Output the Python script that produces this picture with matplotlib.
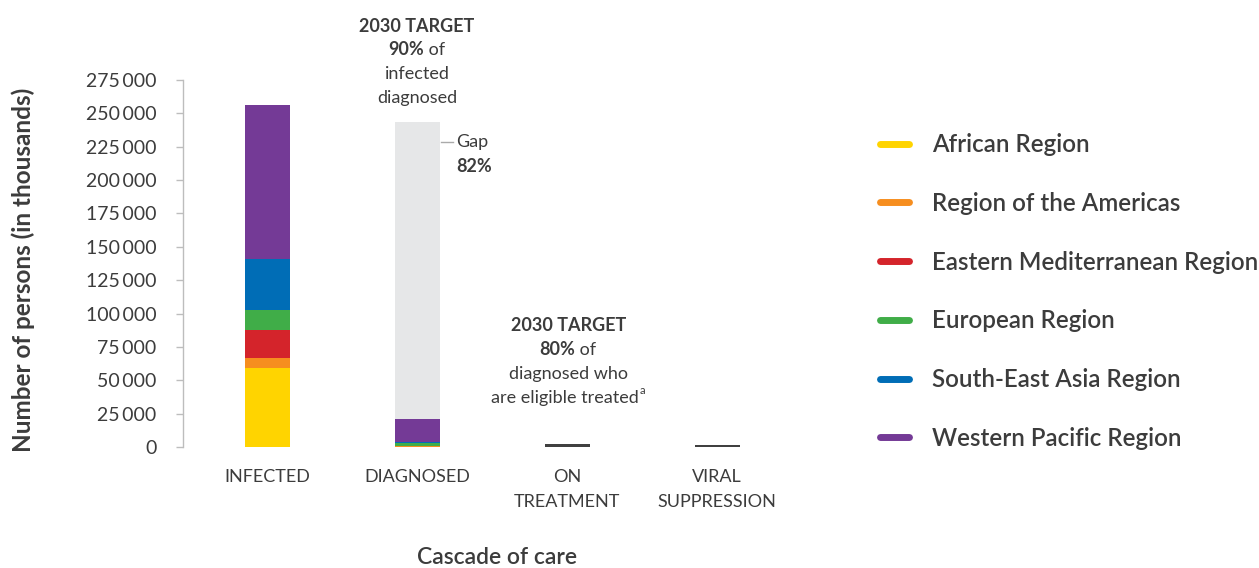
import matplotlib
matplotlib.use("Agg")
import matplotlib.pyplot as plt
from matplotlib.lines import Line2D
import numpy as np

plt.rcParams['font.family'] = ['Lato', 'DejaVu Sans']

# ---------------- data ----------------
stages = ["INFECTED", "DIAGNOSED", "ON\nTREATMENT", "VIRAL\nSUPPRESSION"]
regions = ["African Region", "Region of the Americas", "Eastern Mediterranean Region",
           "European Region", "South-East Asia Region", "Western Pacific Region"]
region_colors = ["#FFD400", "#F68E1F", "#D4242B", "#40AD48", "#006DB6", "#743A96"]

infected = [59500, 7300, 20500, 15200, 38300, 115600]
diagnosed = [0, 750, 0, 2500, 300, 17300]
diagnosed_target_bar = 243400          # grey bar (2030 target level)
on_treatment_total = 2000
viral_suppression_total = 1300

yticks = list(range(0, 275001, 25000))
gap_label = "82%"

TEXT = "#3c3c3c"

fig = plt.figure(figsize=(12.59, 5.68), dpi=100)
W, H = 1259, 568
ax = fig.add_axes([183 / W, (H - 447) / H, (801 - 183) / W, (447 - 80) / H])

x = np.arange(len(stages))
bw = 0.3

# grey target bar behind diagnosed
ax.bar(x[1], diagnosed_target_bar, width=bw, color="#E6E7E8", zorder=1)

bottom_inf = 0
bottom_dia = 0
for i, (name, col) in enumerate(zip(regions, region_colors)):
    ax.bar(x[0], infected[i], bottom=bottom_inf, width=bw, color=col, zorder=2)
    bottom_inf += infected[i]
    if diagnosed[i] > 0:
        ax.bar(x[1], diagnosed[i], bottom=bottom_dia, width=bw, color=col, zorder=2)
    bottom_dia += diagnosed[i]

ax.bar(x[2], on_treatment_total, width=bw, color="#404040", zorder=2)
ax.bar(x[3], viral_suppression_total, width=bw, color="#404040", zorder=2)

ax.set_xlim(-0.56, 3.56)
ax.set_ylim(0, 275000)
ax.set_yticks(yticks)
ax.set_yticklabels([f"{v:,}".replace(",", "\u2009") for v in yticks],
                   fontsize=14, color=TEXT)
ax.set_xticks(x)
ax.set_xticklabels(stages, fontsize=13, color=TEXT, linespacing=1.68, va="top")
ax.tick_params(axis="x", length=0, pad=16)
ax.tick_params(axis="y", length=5, width=1, color="#bdbdbd", pad=14)

for s in ["top", "right", "bottom"]:
    ax.spines[s].set_visible(False)
ax.spines["left"].set_color("#bdbdbd")
ax.spines["left"].set_linewidth(1)

ax.set_ylabel("Number of persons (in thousands)", fontsize=17.5, fontweight="bold",
              color=TEXT)
ax.yaxis.set_label_coords(-0.24, 0.483)
ax.set_xlabel("Cascade of care", fontsize=16.5, fontweight="semibold", color=TEXT)
ax.xaxis.set_label_coords(0.508, -0.272)

# ---- annotations ----
fs = 13
tr = ax.get_xaxis_transform()
cx = x[1]
ax.text(cx, 1.147, "2030 TARGET", transform=tr, ha="center",
        va="center", fontsize=fs, fontweight="bold", color=TEXT, clip_on=False)
ax.annotate("90%", xy=(cx, 1.082), xycoords=("data", "axes fraction"),
            xytext=(5, 0), textcoords="offset points", ha="right", va="center",
            fontsize=fs, fontweight="bold", color=TEXT, annotation_clip=False)
ax.annotate(" of", xy=(cx, 1.082), xycoords=("data", "axes fraction"),
            xytext=(5, 0), textcoords="offset points", ha="left", va="center",
            fontsize=fs, color=TEXT, annotation_clip=False)
ax.text(cx, 1.016, "infected", transform=tr, ha="center",
        va="center", fontsize=fs, color=TEXT)
ax.text(cx, 0.951, "diagnosed", transform=tr, ha="center",
        va="center", fontsize=fs, color=TEXT)

# gap callout
gy = 228500
ax.plot([cx + bw / 2 + 0.01, cx + bw / 2 + 0.09], [gy, gy], color="#aaaaaa", lw=1)
ax.text(cx + bw / 2 + 0.11, gy, "Gap", ha="left", va="center", fontsize=fs, color=TEXT)
ax.text(cx + bw / 2 + 0.11, gy - 18000, gap_label, ha="left", va="center",
        fontsize=fs, fontweight="bold", color=TEXT)

# second target
cx2 = x[2] + 0.01
ax.text(cx2, 91000, "2030 TARGET", ha="center", va="center", fontsize=fs,
        fontweight="bold", color=TEXT)
ax.annotate("80%", xy=(cx2, 73000), xycoords="data", xytext=(5, 0),
            textcoords="offset points", ha="right", va="center", fontsize=fs,
            fontweight="bold", color=TEXT)
ax.annotate(" of", xy=(cx2, 73000), xycoords="data", xytext=(5, 0),
            textcoords="offset points", ha="left", va="center", fontsize=fs,
            color=TEXT)
ax.text(cx2, 55000, "diagnosed who", ha="center", va="center", fontsize=fs, color=TEXT)
t_last = ax.annotate("are eligible treated", xy=(cx2, 37000), xycoords="data",
                     xytext=(-2.5, 0), textcoords="offset points",
                     ha="center", va="center", fontsize=fs, color=TEXT)
ax.annotate("a", xy=(1, 0.62), xycoords=t_last, xytext=(0.5, 0),
            textcoords="offset points", ha="left", va="bottom", fontsize=8, color=TEXT)

# ---- legend ----
handles = [Line2D([0], [0], color=c, lw=5, solid_capstyle="round") for c in region_colors]
fig.legend(handles, regions, loc="upper left",
           bbox_to_anchor=(868 / W, (H - 121) / H), frameon=False,
           handlelength=1.2, handletextpad=0.95, labelspacing=1.48,
           borderpad=0, labelcolor=TEXT, prop={"weight": "semibold", "size": 17.4})

fig.savefig("out.png", dpi=100)
